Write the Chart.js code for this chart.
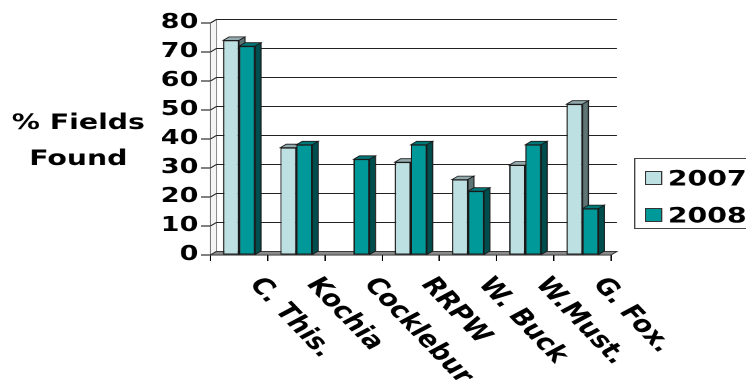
<!DOCTYPE html>
<html>
<head>
<meta charset="utf-8">
<script src="https://cdn.jsdelivr.net/npm/chart.js@4.4.1/dist/chart.umd.min.js"></script>
<style>
  html, body { margin: 0; padding: 0; background: #fff; }
  #weeds { display: block; width: 746px; height: 380px; }
</style>
</head>
<body>
<canvas id="weeds" width="553" height="380" style="width:746px;height:380px"></canvas>
<script>
var categories = ['C. This.', 'Kochia', 'Cocklebur', 'RRPW', 'W. Buck', 'W.Must.', 'G. Fox.']
var years      = ['2007', '2008']
var found2007  = [74, 37, 0, 32, 26, 31, 52]
var found2008  = [72, 38, 33, 38, 22, 38, 16]

var FONT  = 'DejaVu Sans'
var DEPTH = { dx: 4.4, dy: -3.5 }

// front / top / side colours for each series
var shades = [
	{ front: '#bde1e3', top: '#93abac', side: '#5f7475' },
	{ front: '#009999', top: '#007676', side: '#004d4d' }
]

//////////////////////////////////////////////////////////////////////////////////////////////////

function poly(ctx, pts, fill, stroke) {
	ctx.beginPath()
	ctx.moveTo(pts[0][0], pts[0][1])
	for (var i = 1; i < pts.length; i++) ctx.lineTo(pts[i][0], pts[i][1])
	ctx.closePath()
	if (fill) { ctx.fillStyle = fill; ctx.fill() }
	if (stroke) { ctx.strokeStyle = stroke; ctx.lineWidth = 0.8; ctx.stroke() }
}

// walls, floor and the back-wall gridlines
var box3d = {
	id: 'box3d',
	beforeDatasetsDraw: function(chart) {
		var ctx = chart.ctx, a = chart.chartArea, y = chart.scales.y
		var dx = DEPTH.dx, dy = DEPTH.dy
		ctx.save()
		poly(ctx, [[a.left, a.bottom], [a.left, a.top], [a.left + dx, a.top + dy], [a.left + dx, a.bottom + dy]], '#f4f4f4', '#777')
		ctx.strokeStyle = '#222'
		ctx.lineWidth = 1
		y.ticks.forEach(function(t) {
			var py = y.getPixelForValue(t.value)
			ctx.beginPath()
			ctx.moveTo(a.left, py)
			ctx.lineTo(a.left + dx, py + dy)
			ctx.lineTo(a.right + dx, py + dy)
			ctx.stroke()
		})
		poly(ctx, [[a.left, a.bottom], [a.left + dx, a.bottom + dy], [a.right + dx, a.bottom + dy], [a.right, a.bottom]], '#8a8a8a', '#333')
		ctx.restore()
	}
}

function faces(ctx, bar, c) {
	var dx = DEPTH.dx, dy = DEPTH.dy
	var p = bar.getProps(['x', 'y', 'base', 'width'], true)
	if (p.base - p.y < 0.5) return
	var l = p.x - p.width / 2, r = p.x + p.width / 2
	poly(ctx, [[l, p.y], [l + dx, p.y + dy], [r + dx, p.y + dy], [r, p.y]], c.top, '#1a1a1a')
	poly(ctx, [[r, p.y], [r + dx, p.y + dy], [r + dx, p.base + dy], [r, p.base]], c.side, '#1a1a1a')
}

// top and side faces; the 2008 fronts go back over the 2007 sides
var columns3d = {
	id: 'columns3d',
	afterDatasetsDraw: function(chart) {
		var ctx = chart.ctx
		ctx.save()
		chart.getDatasetMeta(0).data.forEach(function(bar) { faces(ctx, bar, shades[0]) })
		chart.getDatasetMeta(1).data.forEach(function(bar) {
			bar.draw(ctx)
			faces(ctx, bar, shades[1])
		})
		ctx.restore()
	}
}

// axis title, slanted category names and the legend box
var labels = {
	id: 'labels',
	afterDraw: function(chart) {
		var ctx = chart.ctx, a = chart.chartArea, x = chart.scales.x
		ctx.save()
		ctx.fillStyle = '#000'
		ctx.font = 'bold 21px "' + FONT + '"'
		ctx.textAlign = 'center'
		ctx.textBaseline = 'alphabetic'
		ctx.fillText('% Fields', 58, 129)
		ctx.fillText('Found', 58, 165)

		ctx.font = 'bold 22px "' + FONT + '"'
		ctx.textAlign = 'left'
		ctx.textBaseline = 'top'
		categories.forEach(function(name, i) {
			ctx.save()
			ctx.translate(x.getPixelForValue(i) + 20.5, a.bottom + 19)
			ctx.rotate(54.4 * Math.PI / 180)
			ctx.fillText(name, 0, 0)
			ctx.restore()
		})

		ctx.font = 'bold 21px "' + FONT + '"'
		ctx.lineWidth = 1
		ctx.strokeStyle = '#444'
		ctx.strokeRect(470.5, 158.5, 100, 70)
		ctx.textBaseline = 'alphabetic'
		years.forEach(function(yr, i) {
			var top = 171 + i * 37
			ctx.fillStyle = shades[i].front
			ctx.fillRect(478, top, 13, 14)
			ctx.strokeStyle = '#333'
			ctx.strokeRect(478.5, top + 0.5, 12, 13)
			ctx.fillStyle = '#000'
			ctx.fillText(yr, 495, top + 14.5)
		})
		ctx.restore()
	}
}

//////////////////////////////////////////////////////////////////////////////////////////////////

Chart.defaults.font.family = FONT

new Chart(document.getElementById('weeds'), {
	type: 'bar',
	data: {
		labels: categories,
		datasets: [
			{ label: years[0], data: found2007, backgroundColor: shades[0].front },
			{ label: years[1], data: found2008, backgroundColor: shades[1].front }
		]
	},
	options: {
		responsive: false,
		animation: false,
		devicePixelRatio: 2,
		layout: { padding: { left: 0, top: 23, right: 100, bottom: 119 } },
		datasets: {
			bar: {
				categoryPercentage: 0.56,
				barPercentage: 1,
				borderWidth: 1,
				borderColor: '#1a1a1a',
				borderSkipped: false
			}
		},
		plugins: {
			legend: { display: false },
			tooltip: { enabled: false }
		},
		scales: {
			x: {
				grid: { drawOnChartArea: false, drawTicks: true, tickLength: 6, color: '#000', offset: true },
				border: { display: true, color: '#000', width: 1 },
				ticks: { display: false },
				afterFit: function(scale) { scale.height = 6 }
			},
			y: {
				min: 0,
				max: 80,
				ticks: { stepSize: 10, padding: 2, color: '#000', font: { size: 20, weight: 'bold' } },
				grid: { drawOnChartArea: false, drawTicks: true, tickLength: 7, color: '#000' },
				border: { display: true, color: '#000', width: 1 },
				afterFit: function(scale) { scale.width = 156 }
			}
		}
	},
	plugins: [box3d, columns3d, labels]
})
</script>
</body>
</html>
